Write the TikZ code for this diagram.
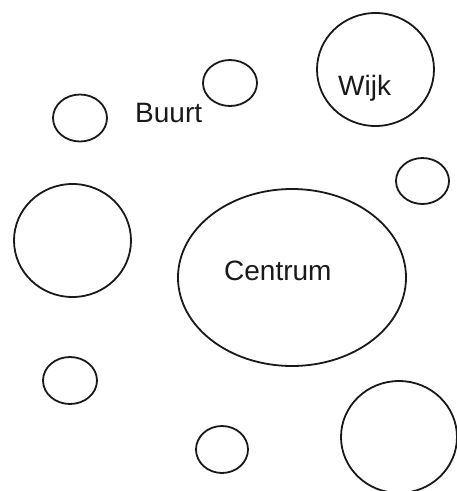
\documentclass[tikz,border=0pt]{standalone}
\usepackage{fontspec}
\setmainfont{Liberation Sans}
\usetikzlibrary{shapes.geometric}
\begin{document}
\begin{tikzpicture}[x=1pt,y=-1pt,
  ring/.style={draw=black!90, line width=1.8pt, ellipse, inner sep=0pt},
  lbl/.style={font=\fontsize{28}{32}\selectfont, inner sep=0pt, anchor=base west, text=black!90}]
\useasboundingbox (0,0) rectangle (457,491);
\node[ring, minimum width=54pt, minimum height=46pt] (top) at (230,83) {};
\node[ring, minimum width=117pt, minimum height=113pt] (wijk) at (375.5,69.5) {};
\node[ring, minimum width=54pt, minimum height=47pt] (lsmall) at (80,118) {};
\node[ring, minimum width=53pt, minimum height=46pt] (rsmall) at (422.5,181) {};
\node[ring, minimum width=117pt, minimum height=113pt] (lbig) at (72.5,240.5) {};
\node[ring, minimum width=228pt, minimum height=177pt] (centrum) at (292,277.5) {};
\node[ring, minimum width=54pt, minimum height=47pt] (blsmall) at (70,380.5) {};
\node[ring, minimum width=52pt, minimum height=47pt] (bsmall) at (222,449.5) {};
\node[ring, minimum width=116pt, minimum height=112pt] (brbig) at (399,437) {};
\node[lbl] (tbuurt) at (135,122) {Buurt};
\node[lbl] (twijk) at (338,95) {Wijk};
\node[lbl] (tcentrum) at (224,280) {Centrum};
\end{tikzpicture}
\end{document}
